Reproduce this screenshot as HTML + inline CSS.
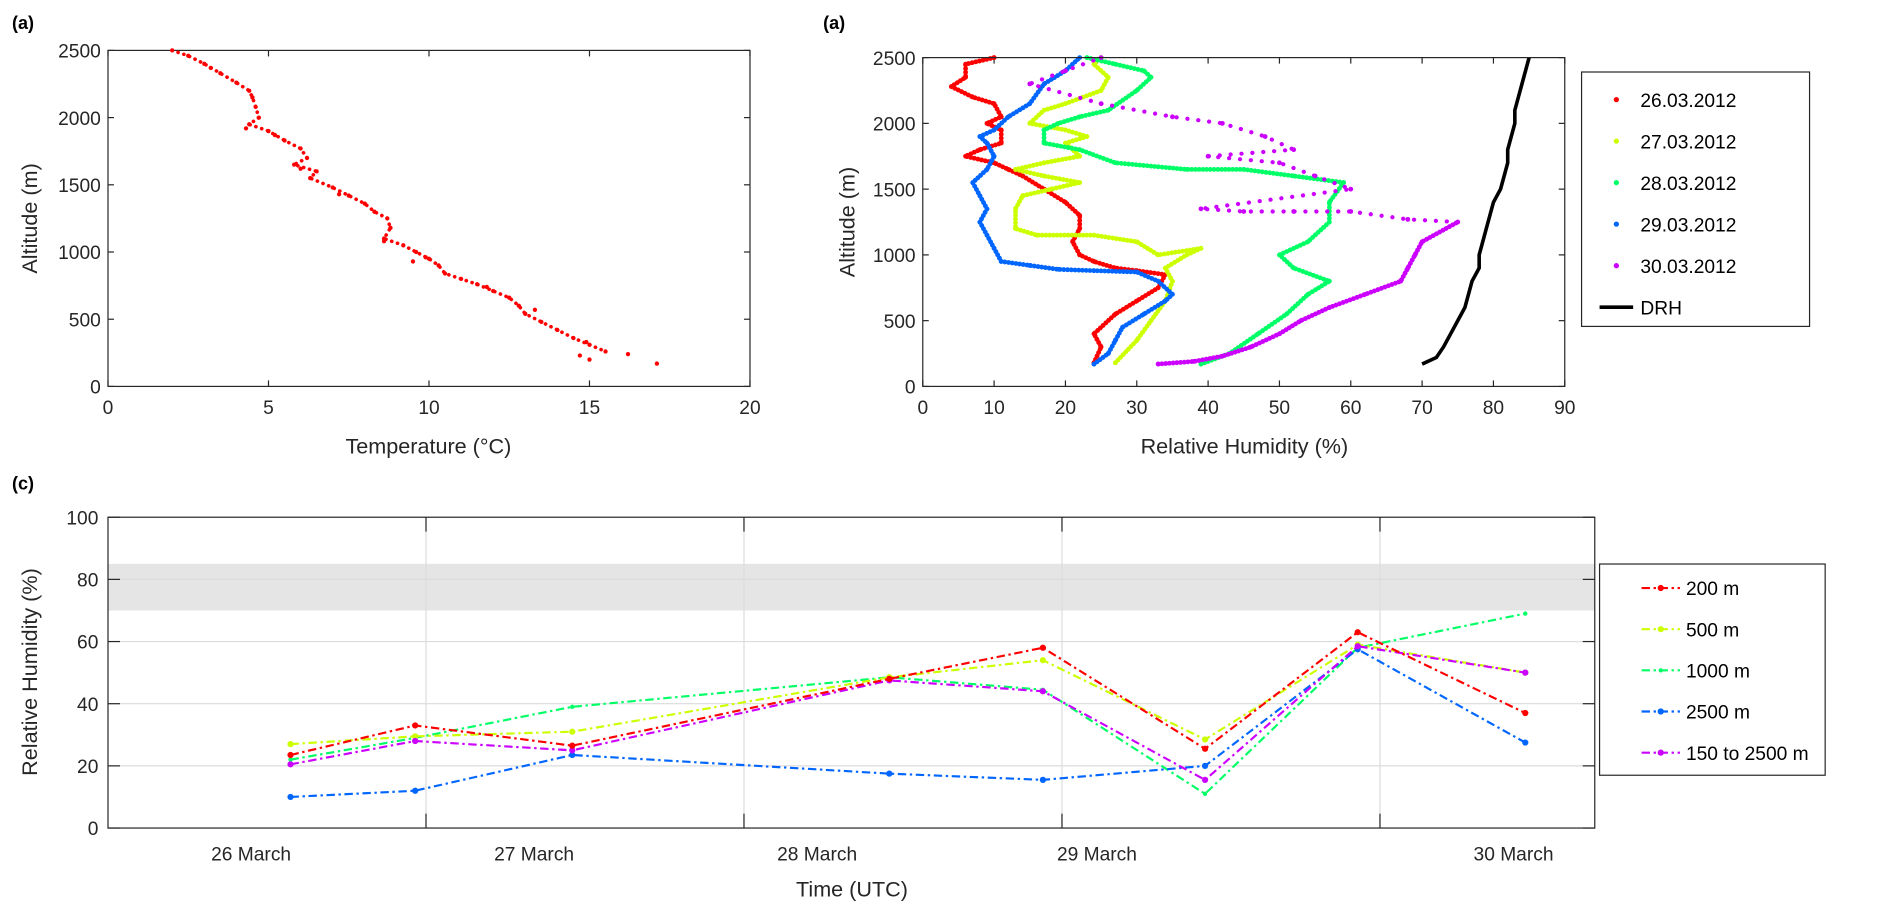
<!DOCTYPE html>
<html><head><meta charset="utf-8"><style>
html,body{margin:0;padding:0;background:#fff;}
svg{display:block;font-family:"Liberation Sans",Arial,sans-serif;}
</style></head><body>
<svg id="fig" width="1883" height="919" viewBox="0 0 1569.2 765.8" preserveAspectRatio="none" xmlns="http://www.w3.org/2000/svg">
<rect width="1569.2" height="765.8" fill="#fff"/>
<g id="pa"></g>
<g id="pb"></g>
<g id="pc"></g>
</svg>
<script>
// ---------- Panel (a) data ----------
const tempVals = [2,2.5,3,3.5,4,4.4,4.5,4.6,4.7,4.4,5,5.5,6,6.2,5.8,6.5,6.3,7,7.5,8,8.3,8.7,8.8,8.6,9.2,9.6,10,10.3,10.5,11,11.5,12,12.5,12.8,13,13.5,14,14.5,15,15.5,14.7,16.2,17.1,15,9.5,8.6,6,4.3,3.2,5.2,7.2,9.9,11.8,13.3,14.9];
const tempAlts = [2500,2460,2400,2330,2260,2200,2150,2080,2000,1950,1900,1830,1770,1700,1650,1600,1550,1480,1420,1360,1300,1250,1180,1100,1050,1000,950,900,840,800,760,710,660,600,540,480,420,360,310,260,230,240,170,200,930,1080,1620,1920,2370,1870,1430,960,740,570,330];
const tempTicks = [0,5,10,15,20];
const altTicks = [0,500,1000,1500,2000,2500];

// ---------- Panel (b) data ----------
const rhLabels = ['26.03.2012','27.03.2012','28.03.2012','29.03.2012','30.03.2012'];
const rhColors = ['#ff0000','#ccff00','#00ff66','#0066ff','#cc00ff'];
const rh26 = [[24,180],[25,300],[24,400],[27,550],[30,650],[33,750],[34,850],[30,880],[27,900],[24,950],[22,1000],[21,1100],[22,1200],[22,1300],[20,1400],[17,1500],[14,1600],[12,1650],[10,1700],[6,1750],[8,1800],[11,1850],[11,1950],[9,2000],[11,2050],[10,2150],[7,2200],[4,2280],[6,2350],[6,2450],[10,2500]];
const rh27 = [[27,180],[30,350],[32,500],[34,650],[35,800],[34,900],[37,1000],[39,1050],[33,1000],[30,1100],[24,1150],[16,1150],[13,1200],[13,1350],[14,1450],[18,1500],[22,1550],[17,1600],[13,1650],[17,1700],[22,1750],[20,1850],[23,1900],[20,1950],[15,2000],[17,2100],[20,2150],[25,2250],[26,2350],[24,2450],[25,2500]];
const rh28 = [[39,170],[43,250],[47,400],[51,550],[54,700],[57,800],[52,900],[50,1000],[54,1100],[57,1250],[57,1400],[59,1550],[52,1600],[45,1650],[37,1650],[27,1700],[22,1800],[17,1850],[17,1950],[19,2000],[22,2050],[26,2100],[30,2250],[32,2350],[31,2400],[27,2450],[23,2500]];
const rh29 = [[24,170],[26,250],[27,350],[28,450],[31,550],[34,650],[35,700],[33,800],[30,870],[24,880],[19,890],[15,920],[11,950],[10,1050],[9,1150],[8,1250],[9,1350],[8,1450],[7,1550],[9,1650],[10,1750],[9,1850],[8,1900],[10,1950],[12,2050],[15,2150],[17,2300],[20,2400],[22,2500]];
const rh30 = [[33,170],[38,190],[42,230],[46,300],[50,400],[53,500],[57,600],[62,700],[67,800],[68,900],[69,1000],[70,1100],[75,1250],[68,1270],[60,1330],[52,1330],[45,1330],[39,1350],[60,1500],[55,1600],[50,1700],[40,1750],[52,1800],[48,1900],[42,2000],[35,2050],[25,2150],[15,2300],[20,2400],[25,2500]];
const drh = [[70,170],[72,220],[73,300],[74,400],[75,500],[76,600],[76.5,700],[77,800],[78,900],[78,1000],[78.5,1100],[79,1200],[79.5,1300],[80,1400],[81,1500],[81.5,1600],[82,1700],[82,1800],[82.5,1900],[83,2000],[83,2100],[83.5,2200],[84,2300],[84.5,2400],[85,2500]];
const rhTicks = [0,10,20,30,40,50,60,70,80,90];

// ---------- Panel (c) data ----------
const timeDays = [0.574,0.966,1.46,2.457,2.94,3.45,3.93,4.457];
const s200 = [23.5,33,26.5,48,58,25.5,63,37];
const s500 = [27,29.5,31,48.5,54,28.5,59,50];
const s1000 = [22,29,39,48.5,44.5,11,58,69];
const s2500 = [10,12,23.5,17.5,15.5,20,57.5,27.5];
const sAll = [20.5,28,25,47.5,44,15.5,58.5,50];
const cLabels = ['200 m','500 m','1000 m','2500 m','150 to 2500 m'];
const dayLabels = ['26 March','27 March','28 March','29 March','30 March'];
const dayLabelPos = [0.45,1.34,2.23,3.11,4.42];
const cTicks = [0,20,40,60,80,100];
const gridDays = [1,2,3,4];

const NS='http://www.w3.org/2000/svg';
function mk(parent,tag,attrs,text){const e=document.createElementNS(NS,tag);for(const k in attrs)e.setAttribute(k,attrs[k]);if(text!==undefined)e.textContent=text;parent.appendChild(e);return e;}

// ===== Panel A =====
const pa=document.getElementById('pa');
const ax={l:90,r:625,t:42,b:322};
const xa=v=>ax.l+(v-0)/20*(ax.r-ax.l), ya=v=>ax.b-(v/2500)*(ax.b-ax.t);
tempTicks.forEach(t=>{
  const l=mk(pa,'line',{x1:xa(t),x2:xa(t),y1:ax.b,y2:ax.b-5,stroke:'#262626'});
  
  mk(pa,'line',{x1:xa(t),x2:xa(t),y1:ax.t,y2:ax.t+5,stroke:'#262626'});
  const tx=mk(pa,'text',{x:xa(t),y:ax.b+23,'text-anchor':'middle','font-size':16,fill:'#262626'},t);
  
});
altTicks.forEach(t=>{
  mk(pa,'line',{x1:ax.l,x2:ax.l+5,y1:ya(t),y2:ya(t),stroke:'#262626'});
  mk(pa,'line',{x1:ax.r,x2:ax.r-5,y1:ya(t),y2:ya(t),stroke:'#262626'});
  const tx=mk(pa,'text',{x:ax.l-6,y:ya(t)+6,'text-anchor':'end','font-size':16,fill:'#262626'},t);
  
});
mk(pa,'rect',{x:ax.l,y:ax.t,width:ax.r-ax.l,height:ax.b-ax.t,fill:'none',stroke:'#262626','stroke-width':1});
// dotted trace along the main (first 43) samples to mimic dense sampling
const mainIdx=[...Array(43).keys()].filter(i=>i<40);
mk(pa,'polyline',{points:mainIdx.map(i=>xa(tempVals[i])+','+ya(tempAlts[i])).join(' '),fill:'none',stroke:'#ff0000','stroke-width':3,'stroke-dasharray':'0.1 5','stroke-linecap':'round'});
tempVals.forEach((v,i)=>{
  const c=mk(pa,'circle',{cx:xa(v),cy:ya(tempAlts[i]),r:1.8,fill:'#ff0000'});
  
});
let t1=mk(pa,'text',{x:357,y:378,'text-anchor':'middle','font-size':18,fill:'#262626'},'Temperature (°C)');

let t2=mk(pa,'text',{x:0,y:0,'text-anchor':'middle','font-size':18,fill:'#262626',transform:'translate(31,182) rotate(-90)'},'Altitude (m)');

let t3=mk(pa,'text',{x:10,y:24,'font-size':15,'font-weight':'bold'},'(a)');


// ===== Panel B =====
const pb=document.getElementById('pb');
const bx={l:769,r:1304,t:48,b:322};
const xb=v=>bx.l+v/90*(bx.r-bx.l), yb=v=>bx.b-(v/2500)*(bx.b-bx.t);
rhTicks.forEach(t=>{
  mk(pb,'line',{x1:xb(t),x2:xb(t),y1:bx.b,y2:bx.b-5,stroke:'#262626'});
  mk(pb,'line',{x1:xb(t),x2:xb(t),y1:bx.t,y2:bx.t+5,stroke:'#262626'});
  const tx=mk(pb,'text',{x:xb(t),y:bx.b+23,'text-anchor':'middle','font-size':16,fill:'#262626'},t);
  
});
altTicks.forEach(t=>{
  mk(pb,'line',{x1:bx.l,x2:bx.l+5,y1:yb(t),y2:yb(t),stroke:'#262626'});
  mk(pb,'line',{x1:bx.r,x2:bx.r-5,y1:yb(t),y2:yb(t),stroke:'#262626'});
  const tx=mk(pb,'text',{x:bx.l-6,y:yb(t)+6,'text-anchor':'end','font-size':16,fill:'#262626'},t);
  
});
const profiles=[rh26,rh27,rh28,rh29,rh30];
profiles.forEach((p,k)=>{
  const g=mk(pb,'g',{});
  
  const dense = k===4 ? p.slice(0,13) : p;
  mk(g,'polyline',{points:dense.map(d=>xb(d[0])+','+yb(d[1])).join(' '),fill:'none',stroke:rhColors[k],'stroke-width':4,'stroke-dasharray':'0.1 3','stroke-linecap':'round','stroke-linejoin':'round'});
  if(k===4){
    mk(g,'polyline',{points:p.slice(12).map(d=>xb(d[0])+','+yb(d[1])).join(' '),fill:'none',stroke:rhColors[k],'stroke-width':3.5,'stroke-dasharray':'0.1 9','stroke-linecap':'round'});
  }
  p.forEach(d=>{
    const c=mk(g,'circle',{cx:xb(d[0]),cy:yb(d[1]),r:2,fill:rhColors[k]});
    
  });
});
const dl=mk(pb,'polyline',{points:drh.map(d=>xb(d[0])+','+yb(d[1])).join(' '),fill:'none',stroke:'#000','stroke-width':3});

mk(pb,'rect',{x:bx.l,y:bx.t,width:bx.r-bx.l,height:bx.b-bx.t,fill:'none',stroke:'#262626'});
let t4=mk(pb,'text',{x:1037,y:378,'text-anchor':'middle','font-size':18,fill:'#262626'},'Relative Humidity (%)');

let t5=mk(pb,'text',{x:0,y:0,'text-anchor':'middle','font-size':18,fill:'#262626',transform:'translate(712,185) rotate(-90)'},'Altitude (m)');

let t6=mk(pb,'text',{x:686,y:24,'font-size':15,'font-weight':'bold'},'(a)');

const lgB=mk(pb,'g',{});

mk(lgB,'rect',{x:1318,y:60,width:190,height:212,fill:'#fff',stroke:'#262626'});
rhLabels.forEach((lab,k)=>{
  const y=83+k*34.6;
  const e=mk(lgB,'g',{});
  
  mk(e,'circle',{cx:1347,cy:y,r:2.2,fill:rhColors[k]});
  mk(e,'text',{x:1367,y:y+6,'font-size':16,fill:'#000'},lab);
});
const e6=mk(lgB,'g',{});

mk(e6,'line',{x1:1333,x2:1361,y1:256,y2:256,stroke:'#000','stroke-width':3});
mk(e6,'text',{x:1367,y:262,'font-size':16,fill:'#000'},'DRH');

// ===== Panel C =====
const pc=document.getElementById('pc');
const cx={l:90,r:1329,t:431,b:690};
const dayW=265;
const xc=d=>cx.l+d*dayW, yc=v=>cx.b-v/100*(cx.b-cx.t);
const band=mk(pc,'rect',{x:cx.l,y:yc(85),width:cx.r-cx.l,height:yc(70)-yc(85),fill:'#e5e5e5'});

cTicks.forEach(t=>{
  if(t>0&&t<100){const gl=mk(pc,'line',{x1:cx.l,x2:cx.r,y1:yc(t),y2:yc(t),stroke:'#dcdcdc'});
  }
  mk(pc,'line',{x1:cx.l,x2:cx.l+10,y1:yc(t),y2:yc(t),stroke:'#262626'});
  mk(pc,'line',{x1:cx.r,x2:cx.r-10,y1:yc(t),y2:yc(t),stroke:'#262626'});
  const tx=mk(pc,'text',{x:cx.l-8,y:yc(t)+6,'text-anchor':'end','font-size':16,fill:'#262626'},t);
  
});
gridDays.forEach(d=>{
  const gl=mk(pc,'line',{x1:xc(d),x2:xc(d),y1:cx.t,y2:cx.b,stroke:'#dcdcdc'});
  
  mk(pc,'line',{x1:xc(d),x2:xc(d),y1:cx.t,y2:cx.t+12,stroke:'#262626'});
  mk(pc,'line',{x1:xc(d),x2:xc(d),y1:cx.b,y2:cx.b-12,stroke:'#262626'});
});
dayLabels.forEach((lab,i)=>{
  const tx=mk(pc,'text',{x:xc(dayLabelPos[i]),y:cx.b+27,'text-anchor':'middle','font-size':16,fill:'#262626'},lab);
  
});
const series=[s200,s500,s1000,s2500,sAll];
const drawOrder=[2,1,3,4,0];
drawOrder.forEach(k=>{
  const s=series[k];
  const g=mk(pc,'g',{});
  
  mk(g,'polyline',{points:s.map((v,i)=>xc(timeDays[i])+','+yc(v)).join(' '),fill:'none',stroke:rhColors[k],'stroke-width':1.8,'stroke-dasharray':'7 3 2 3'});
  s.forEach((v,i)=>{
    const c=mk(g,'circle',{cx:xc(timeDays[i]),cy:yc(v),r:k===2?1.8:2.6,fill:rhColors[k]});
    
  });
});
mk(pc,'rect',{x:cx.l,y:cx.t,width:cx.r-cx.l,height:cx.b-cx.t,fill:'none',stroke:'#262626'});
let t7=mk(pc,'text',{x:710,y:747,'text-anchor':'middle','font-size':18,fill:'#262626'},'Time (UTC)');

let t8=mk(pc,'text',{x:0,y:0,'text-anchor':'middle','font-size':18,fill:'#262626',transform:'translate(31,560) rotate(-90)'},'Relative Humidity (%)');

let t9=mk(pc,'text',{x:10,y:408,'font-size':15,'font-weight':'bold'},'(c)');

const lgC=mk(pc,'g',{});

mk(lgC,'rect',{x:1333,y:470,width:188,height:176,fill:'#fff',stroke:'#262626'});
cLabels.forEach((lab,k)=>{
  const y=490+k*34.3;
  const e=mk(lgC,'g',{});
  
  mk(e,'line',{x1:1368,x2:1400,y1:y,y2:y,stroke:rhColors[k],'stroke-width':1.8,'stroke-dasharray':'7 3 2 3'});
  mk(e,'circle',{cx:1384,cy:y,r:k===2?1.8:2.6,fill:rhColors[k]});
  mk(e,'text',{x:1405,y:y+6,'font-size':16,fill:'#000'},lab);
});
</script>
</body></html>
